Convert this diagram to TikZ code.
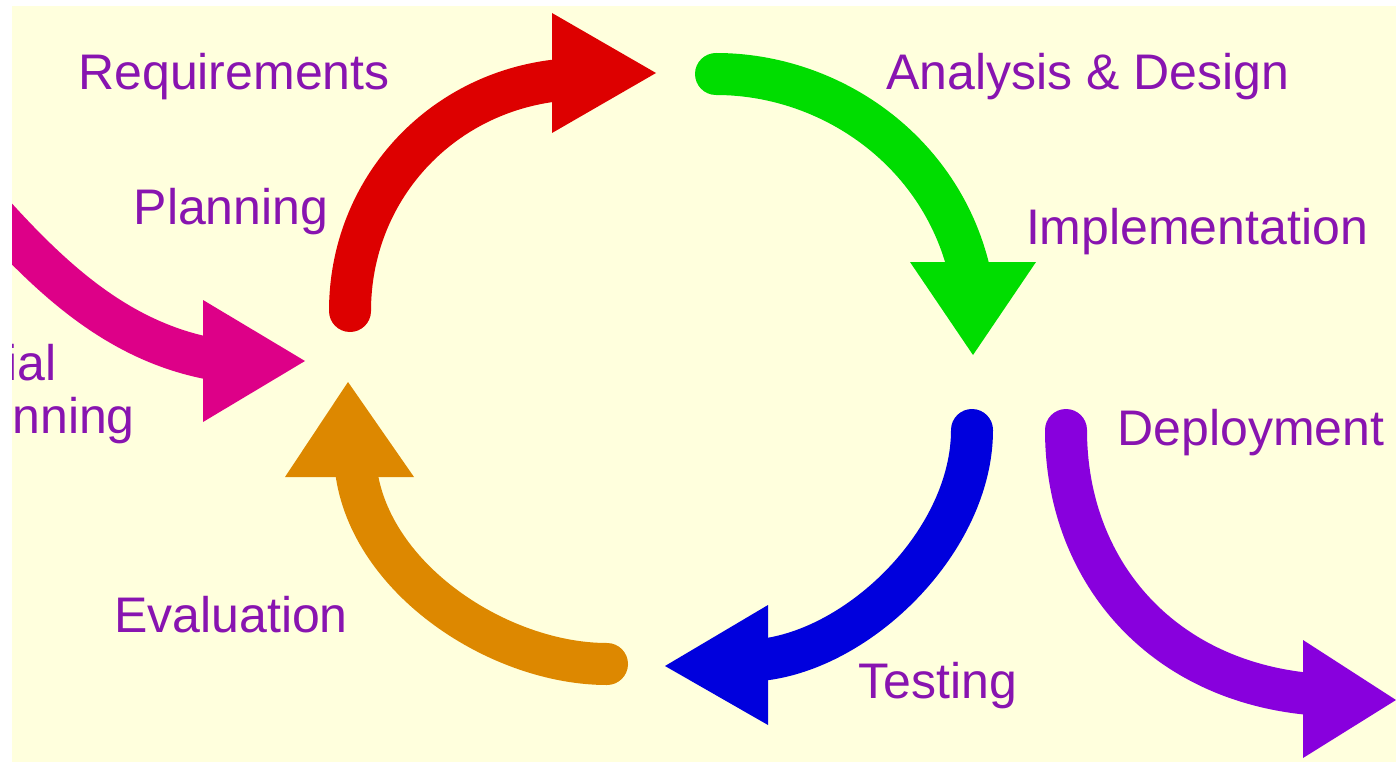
\documentclass[tikz,border=0pt]{standalone}
\usepackage{fontspec}
\setmainfont{Liberation Sans}
\definecolor{bgyellow}{RGB}{255,255,221}
\definecolor{lblpurple}{RGB}{136,20,176}
\definecolor{cred}{RGB}{221,0,0}
\definecolor{cgreen}{RGB}{0,221,0}
\definecolor{cblue}{RGB}{0,0,221}
\definecolor{corange}{RGB}{221,136,0}
\definecolor{cmagenta}{RGB}{221,0,136}
\definecolor{cviolet}{RGB}{136,0,221}
\begin{document}
\begin{tikzpicture}[x=1pt,y=-1pt,
  shaft/.style={line width=42pt,line cap=round},
  lbl/.style={text=lblpurple,font=\fontsize{50}{60}\selectfont,inner sep=0pt,anchor=base}]
\useasboundingbox (0,0) rectangle (1396,762);
\fill[white] (0,0) rectangle (1396,762);
\begin{scope}
\clip (12,6) rectangle (1396,762);
\fill[bgyellow] (12,6) rectangle (1396,762);

% red arrow (Planning -> Requirements)
\coordinate (rS) at (350,311);
\coordinate (rE) at (560,80);
\coordinate (rA) at (552,13);
\coordinate (rB) at (552,133);
\coordinate (rT) at (656,73);
\draw[shaft,cred] (rS) .. controls (350,190) and (440,92) .. (rE);
\fill[cred] (rA) -- (rT) -- (rB) -- cycle;

% green arrow
\coordinate (gS) at (716,74);
\coordinate (gE) at (969,270);
\coordinate (gA) at (910,262);
\coordinate (gB) at (1036,262);
\coordinate (gT) at (973,355);
\draw[shaft,cgreen] (gS) .. controls (830,74) and (940,150) .. (gE);
\fill[cgreen] (gA) -- (gT) -- (gB) -- cycle;

% blue arrow
\coordinate (bS) at (972,430);
\coordinate (bE) at (760,660);
\coordinate (bA) at (768,605);
\coordinate (bB) at (768,725);
\coordinate (bT) at (665,666);
\draw[shaft,cblue] (bS) .. controls (972,540) and (860,650) .. (bE);
\fill[cblue] (bA) -- (bT) -- (bB) -- cycle;

% orange arrow
\coordinate (oS) at (607,664);
\coordinate (oE) at (356,470);
\coordinate (oA) at (285,477);
\coordinate (oB) at (414,477);
\coordinate (oT) at (348,382);
\draw[shaft,corange] (oS) .. controls (500,664) and (370,580) .. (oE);
\fill[corange] (oA) -- (oT) -- (oB) -- cycle;

% violet arrow (Deployment)
\coordinate (vS) at (1066,430);
\coordinate (vE) at (1310,694);
\coordinate (vA) at (1303,640);
\coordinate (vB) at (1303,758);
\coordinate (vT) at (1396,700);
\draw[shaft,cviolet] (vS) .. controls (1066,570) and (1160,680) .. (vE);
\fill[cviolet] (vA) -- (vT) -- (vB) -- cycle;

% magenta arrow (Initial Planning)
\coordinate (mS) at (-30,188);
\coordinate (mE) at (212,359);
\coordinate (mA) at (203,300);
\coordinate (mB) at (203,422);
\coordinate (mT) at (305,361);
\draw[shaft,cmagenta,line cap=butt] (mS) .. controls (40,268) and (110,340) .. (mE);
\fill[cmagenta] (mA) -- (mT) -- (mB) -- cycle;

% labels
\node[lbl] (req) at (234,90) {Requirements};
\node[lbl] (plan) at (231,224) {Planning};
\node[lbl,anchor=base east] (ini1) at (57,380) {Initial};
\node[lbl,anchor=base east] (ini2) at (135,433) {Planning};
\node[lbl] (ana) at (1088,90) {Analysis \& Design};
\node[lbl] (impl) at (1197,244) {Implementation};
\node[lbl] (dep) at (1251,445) {Deployment};
\node[lbl] (test) at (938,698) {Testing};
\node[lbl] (eval) at (231,632) {Evaluation};
\end{scope}
\end{tikzpicture}
\end{document}
